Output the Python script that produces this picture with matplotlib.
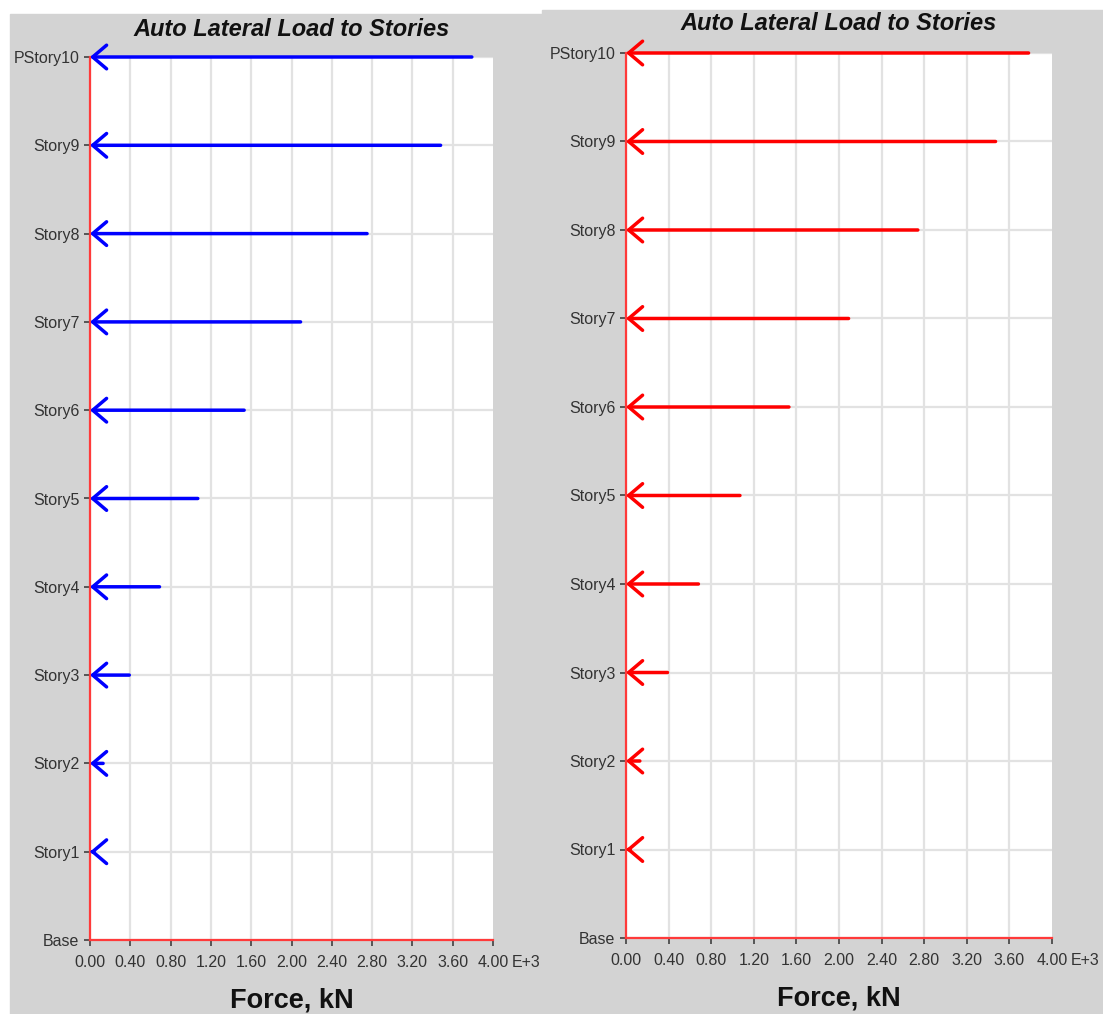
import matplotlib
matplotlib.use("Agg")
import matplotlib.pyplot as plt
from matplotlib.patches import Rectangle
import numpy as np

plt.rcParams['font.family'] = ['Liberation Sans', 'DejaVu Sans']

# story names, bottom to top
stories = ['Base', 'Story1', 'Story2', 'Story3', 'Story4', 'Story5',
           'Story6', 'Story7', 'Story8', 'Story9', 'PStory10']
# auto lateral loads per story (E+3 kN), Story1 .. PStory10
loads_x = [0.04, 0.13, 0.39, 0.69, 1.07, 1.53, 2.09, 2.75, 3.48, 3.79]
loads_y = [0.04, 0.13, 0.39, 0.68, 1.07, 1.53, 2.09, 2.74, 3.47, 3.78]
xticks = [0.0, 0.4, 0.8, 1.2, 1.6, 2.0, 2.4, 2.8, 3.2, 3.6, 4.0]

W, H = 1103, 1014
fig = plt.figure(figsize=(W / 100, H / 100), dpi=100)
fig.patch.set_facecolor('white')

gray = '#d3d3d3'
# grey panels behind each chart
fig.patches.append(Rectangle((10 / W, 0), (542 - 10) / W, (H - 14) / H,
                             transform=fig.transFigure, color=gray, zorder=-5))
fig.patches.append(Rectangle((542 / W, 0), (W - 542) / W, (H - 10) / H,
                             transform=fig.transFigure, color=gray, zorder=-5))


def px_axes(x0, x1, y0, y1):
    return fig.add_axes([x0 / W, (H - y1) / H, (x1 - x0) / W, (y1 - y0) / H])


def draw_panel(ax, loads, color, title_y, xlabel_y):
    ax.set_facecolor('white')
    ax.set_xlim(0, 4.0)
    ax.set_ylim(0, len(stories) - 1)
    ax.set_xticks(xticks)
    ax.set_xticklabels([f'{t:.2f}' for t in xticks])
    ax.set_yticks(range(len(stories)))
    ax.set_yticklabels(stories)
    ax.grid(True, color='#e2e2e2', lw=1.6)
    ax.get_xgridlines()[-1].set_visible(False)
    ax.set_axisbelow(True)
    for s in ['top', 'right']:
        ax.spines[s].set_visible(False)
    for s in ['left', 'bottom']:
        ax.spines[s].set_color('#ff3a3a')
        ax.spines[s].set_linewidth(1.6)
        ax.spines[s].set_zorder(1)
    ax.tick_params(axis='both', colors='#404040', labelcolor='#333333',
                   length=4.5, width=1.2, direction='out')
    ax.tick_params(axis='y', labelsize=11.5, pad=3)
    ax.tick_params(axis='x', labelsize=11.5, pad=6)

    # arrows pointing back to the story line
    for i, v in enumerate(loads):
        y = i + 1
        ax.annotate('', xy=(0, y), xytext=(v, y),
                    arrowprops=dict(arrowstyle='->,head_length=1.0,head_width=0.85',
                                    color=color, lw=2.5, shrinkA=0, shrinkB=0),
                    annotation_clip=False, zorder=5)

    pos = ax.get_position()
    fig.text(pos.x0 + pos.width / 2, 1 - title_y / H,
             'Auto Lateral Load to Stories', ha='center', va='center',
             fontsize=17, fontweight='bold', fontstyle='italic', color='#111111')
    fig.text(pos.x0 + pos.width / 2, 1 - xlabel_y / H,
             'Force, kN', ha='center', va='center',
             fontsize=19.5, fontweight='bold', color='#111111')


ax1 = px_axes(90, 493, 57, 940)
draw_panel(ax1, loads_x, '#0000ff', 29, 1000)

ax2 = px_axes(626, 1052, 53, 938)
draw_panel(ax2, loads_y, '#ff0000', 23, 998)

# axis multiplier to the right of the last tick label, same row
fig.canvas.draw()
for ax, ex in [(ax1, 512), (ax2, 1071)]:
    bb = ax.get_xticklabels()[-1].get_window_extent()
    fig.text(ex / W, (bb.y0 + bb.y1) / 2 / fig.bbox.height, 'E+3',
             ha='left', va='center', fontsize=11.5, color='#333333')

fig.savefig('out.png', dpi=100)
